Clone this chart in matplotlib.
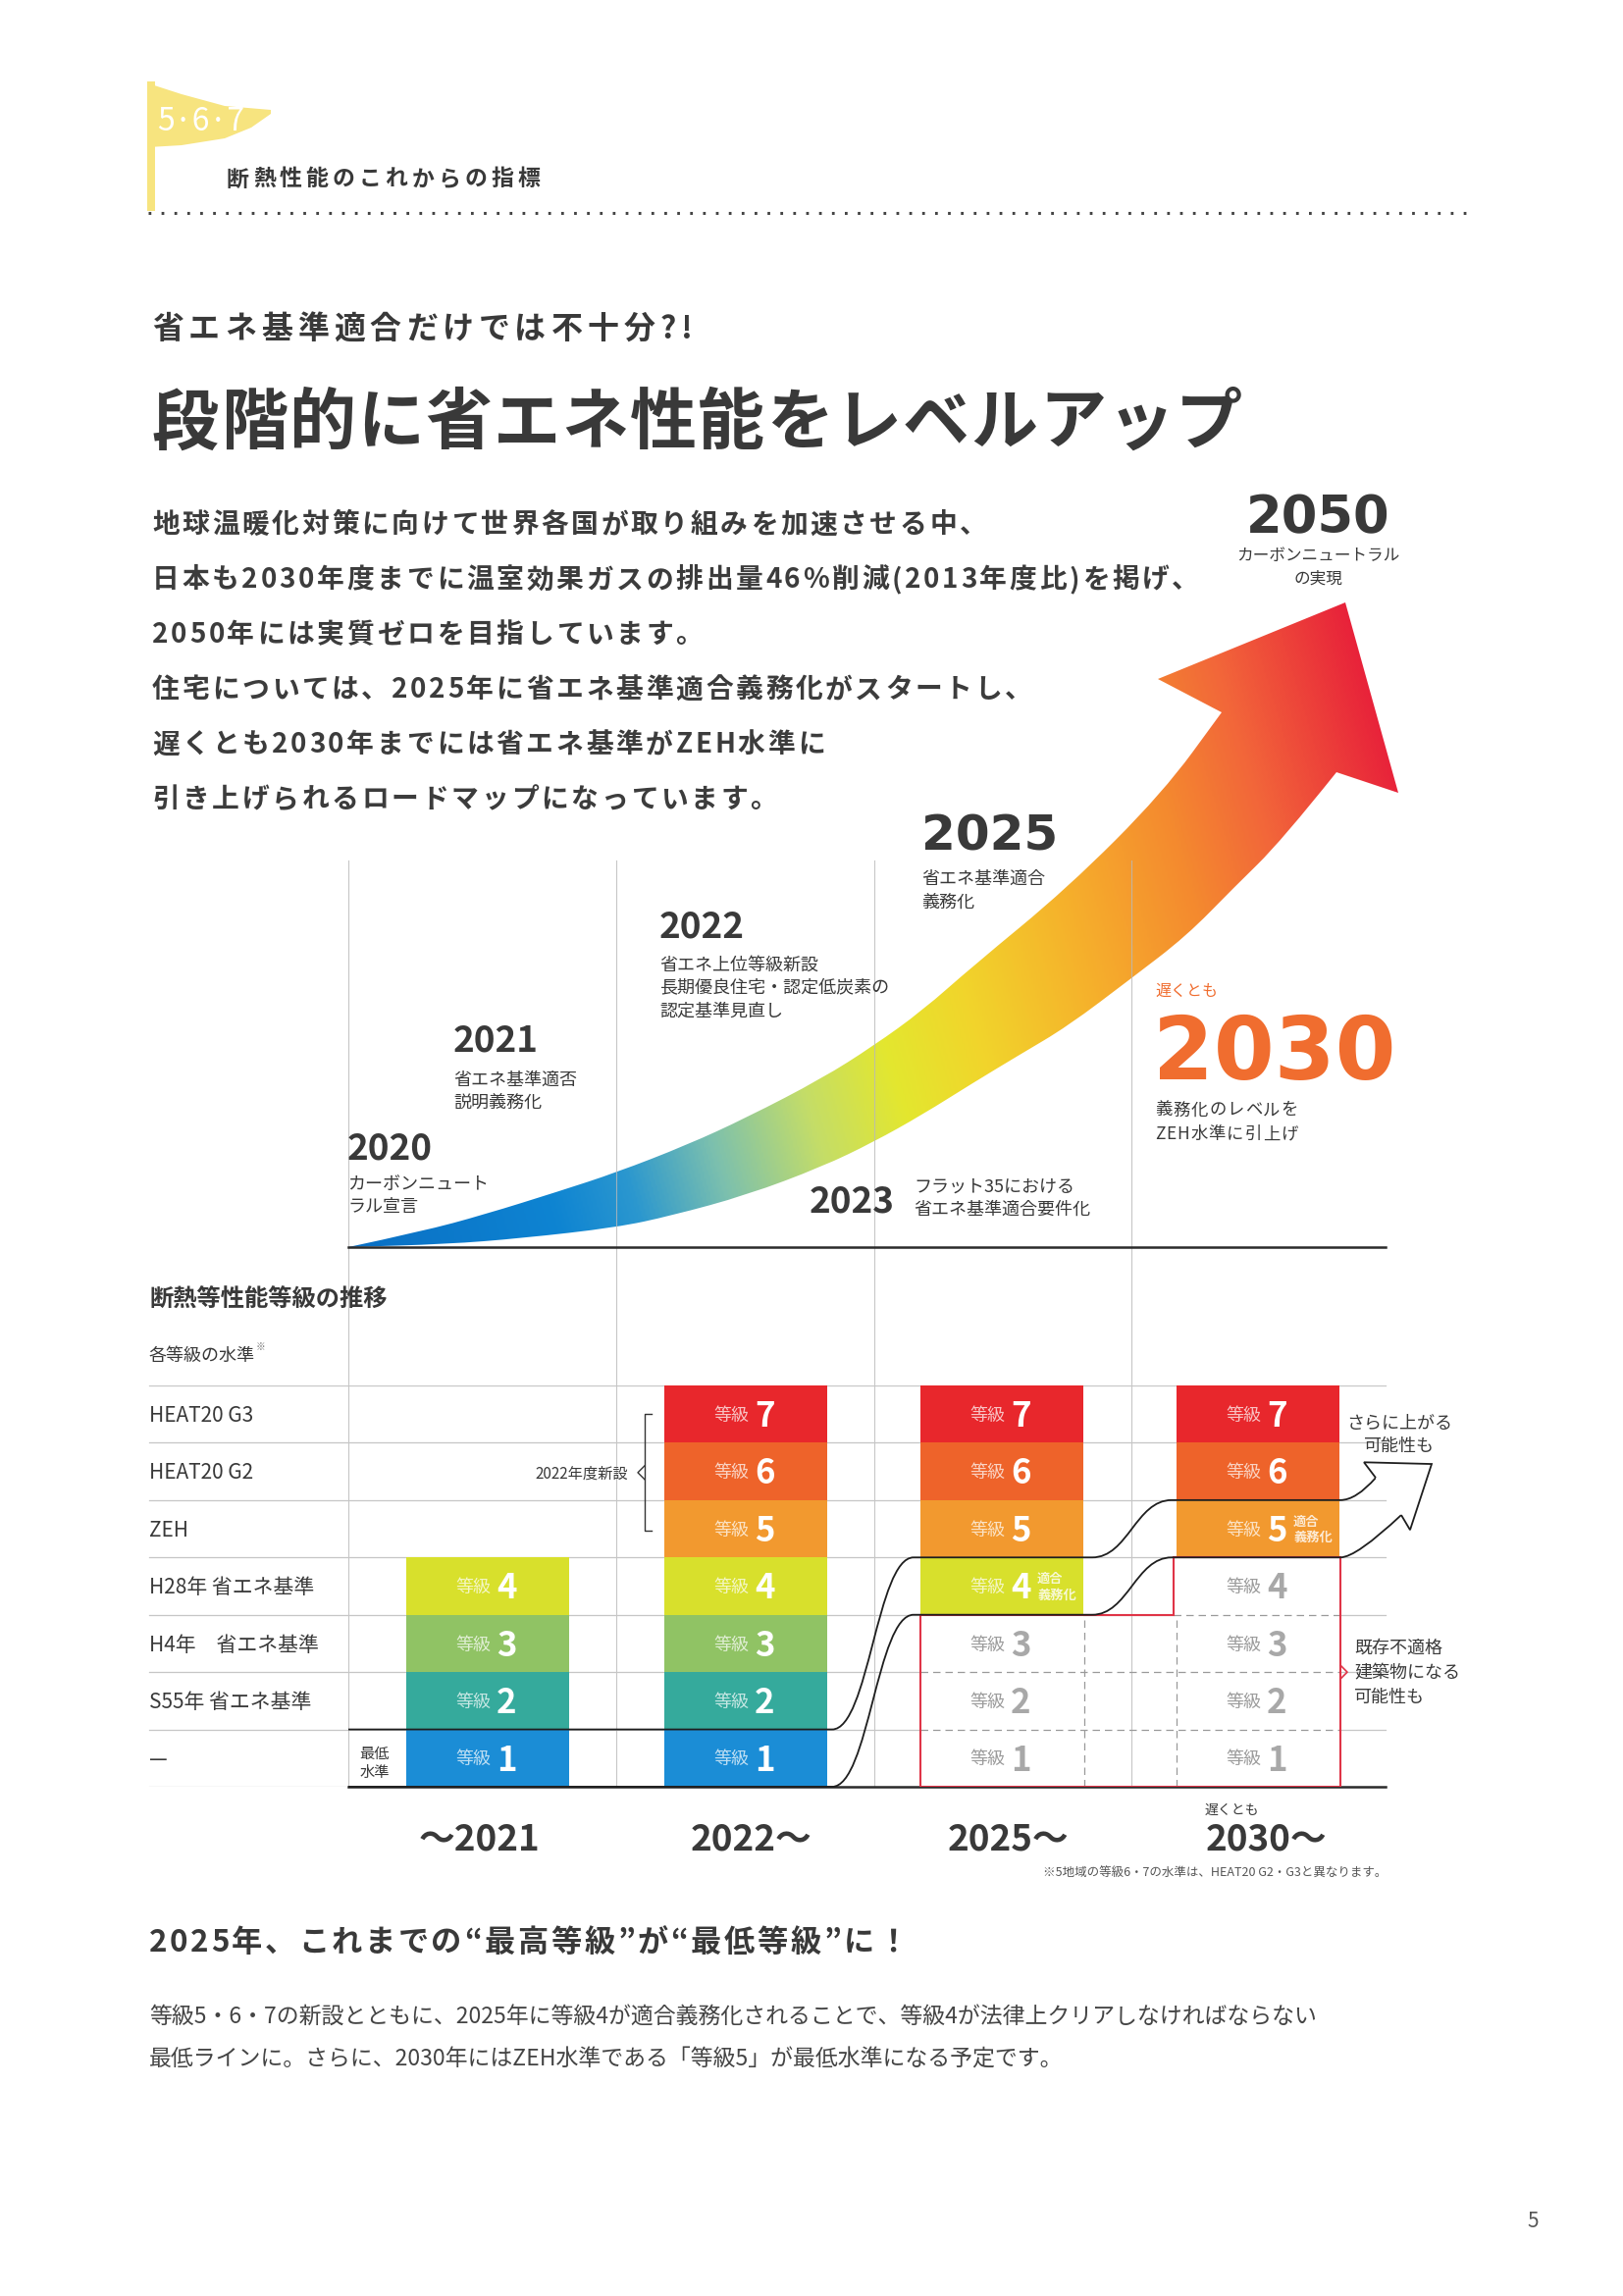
import matplotlib
matplotlib.use("Agg")
import matplotlib.pyplot as plt
import numpy as np
from matplotlib import font_manager as fm
from matplotlib.ft2font import FT2Font
from matplotlib.path import Path
from matplotlib.patches import PathPatch, Polygon, Rectangle
from matplotlib.colors import LinearSegmentedColormap

plt.rcParams["font.family"] = ["Noto Sans CJK JP", "DejaVu Sans"]

W, H, DPI = 1654, 2340, 100
DARK = "#393939"
GRID = "#c6c6c6"
RED = "#e03447"
ORANGE = "#f06d2f"

# ---------------- data ----------------
row_labels = ["HEAT20 G3", "HEAT20 G2", "ZEH", "H28年 省エネ基準",
              "H4年　省エネ基準", "S55年 省エネ基準", "—"]
grades = [7, 6, 5, 4, 3, 2, 1]
grade_colors = ["#e8272c", "#ee632a", "#f2992f", "#d8e02c", "#90c364", "#35aa9c", "#1b8dd6"]
periods = ["〜2021", "2022〜", "2025〜", "2030〜"]
top_grade = [4, 7, 7, 7]      # highest grade that exists in each period
min_grade = [1, 1, 4, 5]      # legal minimum grade in each period

event_years = ["2020", "2021", "2022", "2023"]
event_notes = [["カーボンニュート", "ラル宣言"],
               ["省エネ基準適否", "説明義務化"],
               ["省エネ上位等級新設", "長期優良住宅・認定低炭素の", "認定基準見直し"],
               ["フラット35における", "省エネ基準適合要件化"]]

body_lines = ["地球温暖化対策に向けて世界各国が取り組みを加速させる中、",
              "日本も2030年度までに温室効果ガスの排出量46%削減(2013年度比)を掲げ、",
              "2050年には実質ゼロを目指しています。",
              "住宅については、2025年に省エネ基準適合義務化がスタートし、",
              "遅くとも2030年までには省エネ基準がZEH水準に",
              "引き上げられるロードマップになっています。"]

# ---------------- layout ----------------
COL_X = [497, 760, 1021, 1282]
COL_W = 166
VLINES = [355, 628, 891, 1153]
EVENT_POS = [(354, 1168), (462, 1058), (672, 942), (825, 1222)]
NOTE_POS = [(354, 1205), (462, 1099), (672, 982), (931, 1208)]
SEG = [(355, 620), (620, 848), (931, 1113), (1194, 1366)]
G_TOP, G_BOT = 1412, 1821
ROW_PX = (G_BOT - G_TOP) / 7

fig = plt.figure(figsize=(W / DPI, H / DPI), dpi=DPI)
fig.patch.set_facecolor("white")
ax = fig.add_axes([0, 0, 1, 1])
ax.set_xlim(0, W)
ax.set_ylim(H, 0)
ax.axis("off")

ax_g = fig.add_axes([0, (H - G_BOT) / H, 1, (G_BOT - G_TOP) / H])
ax_g.set_xlim(0, W)
ax_g.set_ylim(0, 7)
ax_g.axis("off")

_fonts = {}


def adv(ch, size, weight):
    if weight not in _fonts:
        path = fm.findfont(fm.FontProperties(family="Noto Sans CJK JP", weight=weight))
        _fonts[weight] = FT2Font(path)
    f = _fonts[weight]
    f.set_size(size, DPI)
    return f.load_char(ord(ch)).linearHoriAdvance / 65536.0


def put(x, y, s, size, track=0.0, color=DARK, weight="normal", ha="left",
        family=None, alpha=1.0):
    yb = y + 0.37 * size * DPI / 72
    kw = dict(fontsize=size, color=color, fontweight=weight, va="baseline",
              zorder=6, alpha=alpha)
    if family is not None:
        kw["family"] = family
    if not track:
        ax.text(x, yb, s, ha=ha, **kw)
        return
    for ch in s:
        ax.text(x, yb, ch, ha="left", **kw)
        x += adv(ch, size, weight) + track


def gput(x, g, s, size, color=DARK, weight="normal", ha="left", alpha=1.0):
    off = 0.37 * size * DPI / 72 / ROW_PX
    ax_g.text(x, g - off, s, fontsize=size, color=color, fontweight=weight,
              ha=ha, va="baseline", zorder=7, alpha=alpha, clip_on=False)


# ---------------- header ----------------
flag = Polygon([(151, 85), (185, 96), (229, 108), (276, 112), (276, 116),
                (256, 130), (229, 141), (185, 148), (151, 150)],
               closed=True, fc="#f7e47f", ec="none", zorder=2)
ax.add_patch(flag)
ax.add_patch(Rectangle((150, 83), 8, 132, fc="#f7e47f", ec="none", zorder=2))
put(160, 121, "5·6·7", 23, color="white")
put(231, 181, "断熱性能のこれからの指標", 16.5, track=4, weight="bold")
ax.plot([151, 1495], [217, 217], color="#444444", lw=2.2,
        linestyle=(0, (0.9, 3.4)), zorder=3)

put(155, 333, "省エネ基準適合だけでは不十分?!", 23, track=5, weight="bold")
put(155, 427, "段階的に省エネ性能をレベルアップ", 49, track=1.5, weight="bold")

for i, line in enumerate(body_lines):
    put(155, 533 + i * 56, line, 20, track=2.7, weight="bold", color="#3c3c3c")

# ---------------- gradient arrow ----------------
upper = [(355, 1271), (430, 1255), (493, 1238), (570, 1214), (628, 1195), (700, 1167),
         (761, 1139), (838, 1099), (890, 1066), (940, 1030), (991, 985), (1088, 905),
         (1185, 808), (1245, 726)]
head = [(1180, 692), (1371, 614), (1425, 808), (1362, 787)]
lower = [(1362, 787), (1306, 857), (1257, 905), (1209, 954), (1153, 997), (1088, 1046),
         (1039, 1075), (991, 1104), (940, 1136), (890, 1164), (838, 1189), (761, 1218),
         (684, 1239), (628, 1251), (531, 1262), (455, 1268), (355, 1271)]

verts, codes = [], []


def add_smooth(pts, first):
    verts.append(pts[0])
    codes.append(first)
    for i in range(1, len(pts) - 1):
        m = ((pts[i][0] + pts[i + 1][0]) / 2, (pts[i][1] + pts[i + 1][1]) / 2)
        verts.extend([pts[i], m])
        codes.extend([Path.CURVE3, Path.CURVE3])
    verts.append(pts[-1])
    codes.append(Path.LINETO)


add_smooth(upper, Path.MOVETO)
for p in head:
    verts.append(p)
    codes.append(Path.LINETO)
add_smooth(lower, Path.LINETO)
verts.append((0, 0))
codes.append(Path.CLOSEPOLY)
arrow_patch = PathPatch(Path(verts, codes), fc="none", ec="none", transform=ax.transData)
ax.add_patch(arrow_patch)

cmap = LinearSegmentedColormap.from_list("arrow", [
    (0.0, "#0a6fc4"), (0.18, "#0e84d2"), (0.25, "#2b97cf"), (0.33, "#7cc0ae"),
    (0.42, "#c4dd68"), (0.50, "#e3e72f"), (0.58, "#f1d52b"), (0.70, "#f6ad2c"),
    (0.80, "#f4892f"), (0.88, "#f2653a"), (1.0, "#e8223a")])
gx = np.linspace(340, 1440, 550)
gy = np.linspace(590, 1280, 345)
GX, GY = np.meshgrid(gx, gy)
T = np.clip(((GX - 355) + 0.3 * (1271 - GY)) / 1215, 0, 1)
im = ax.imshow(T, extent=(340, 1440, 1280, 590), cmap=cmap, vmin=0, vmax=1,
               aspect="auto", interpolation="bilinear", zorder=2)
im.set_clip_path(arrow_patch)

# timeline grid and baseline
for x in VLINES:
    ax.plot([x, x], [877, G_BOT], color="#b9b9b9", lw=0.8, zorder=4, alpha=0.8)
ax.plot([355, 1412], [1271, 1271], color="#2b2b2b", lw=1.8, zorder=5)

# timeline labels
for (x, y), yr in zip(EVENT_POS, event_years):
    put(x, y, yr, 26.5, weight="bold")
for (x, y), notes in zip(NOTE_POS, event_notes):
    for k, s in enumerate(notes):
        put(x, y + k * 23.5, s, 13)

put(939, 848, "2025", 36, weight="bold", family=["DejaVu Sans"])
put(939, 894, "省エネ基準適合", 13)
put(939, 918, "義務化", 13)

put(1343, 524, "2050", 38, weight="bold", family=["DejaVu Sans"], ha="center")
put(1343, 565, "カーボンニュートラル", 12, ha="center")
put(1343, 588, "の実現", 12, ha="center")

put(1177, 1009, "遅くとも", 11.5, color=ORANGE)
put(1175, 1067, "2030", 64, weight="bold", family=["DejaVu Sans"], color=ORANGE)
put(1177, 1130, "義務化のレベルを", 12.5, track=1)
put(1177, 1155, "ZEH水準に引上げ", 12.5, track=1)

# ---------------- grade chart ----------------
put(152, 1323, "断熱等性能等級の推移", 17.5, weight="bold")
put(152, 1380, "各等級の水準", 13)
put(261, 1372, "※", 7, color="#777777")

# horizontal grid
for g in range(1, 8):
    if g in (1, 2):
        spans, dash = [(152, 938), (1366, 1412)], (938, 1366)
    elif g == 3:
        spans, dash = [(152, 1196), (1366, 1412)], (1196, 1366)
    else:
        spans, dash = [(152, 1412)], None
    for a, b in spans:
        ax_g.plot([a, b], [g, g], color=GRID, lw=0.9, zorder=1)
    if dash:
        ax_g.plot(dash, [g, g], color="#9a9a9a", lw=0.9, dashes=(6, 4), zorder=4)
ax_g.plot([152, 355], [0, 0], color=GRID, lw=0.9, zorder=1)
ax_g.plot([355, 1412], [0, 0], color="#2b2b2b", lw=1.8, zorder=5, clip_on=False)
ax_g.plot([1105, 1105], [0, 3], color="#9a9a9a", lw=0.9, dashes=(6, 4), zorder=4)
ax_g.plot([1199, 1199], [0, 3], color="#9a9a9a", lw=0.9, dashes=(6, 4), zorder=4)

for g, lab in zip(grades, row_labels):
    gput(152, g - 0.5, lab, 15)

for i in range(len(periods)):
    cx = COL_X[i]
    for g in range(1, top_grade[i] + 1):
        filled = g >= min_grade[i]
        color = grade_colors[grades.index(g)] if filled else "white"
        ax_g.bar(cx, 1, bottom=g - 1, width=COL_W, color=color, linewidth=0, zorder=3)
        if filled:
            gput(cx + 3, g - 0.5, "等級", 13, color="white", ha="right", alpha=0.72)
            gput(cx + 9, g - 0.5, str(g), 25, color="white", weight="bold")
        else:
            gput(cx + 3, g - 0.5, "等級", 13, color="#9b9b9b", ha="right")
            gput(cx + 9, g - 0.5, str(g), 25, color="#a8a8a8", weight="bold")
        if i >= 2 and g == min_grade[i]:
            gput(cx + 36, g - 0.36, "適合", 9.5, color="white", weight="bold", alpha=0.8)
            gput(cx + 36, g - 0.64, "義務化", 9.5, color="white", weight="bold", alpha=0.8)

# red outline of grades that become non-compliant
ax_g.add_patch(Polygon([(938, 0), (938, 3), (1196, 3), (1196, 4), (1366, 4), (1366, 0)],
                       closed=True, fc="none", ec=RED, lw=1.5, zorder=5))
ax_g.plot([1366, 1373, 1366], [2.12, 2.0, 1.88], color=RED, lw=1.2, zorder=5,
          clip_on=False)


# minimum-level band drawn as an open arrow
def level_path(levels, end):
    v = [(SEG[0][0], levels[0])]
    c = [Path.MOVETO]
    for i, (x0, x1) in enumerate(SEG):
        if i > 0:
            px, pl = SEG[i - 1][1], levels[i - 1]
            if pl != levels[i]:
                dx = x0 - px
                v += [(px + 0.45 * dx, pl), (x0 - 0.45 * dx, levels[i]), (x0, levels[i])]
                c += [Path.CURVE4] * 3
            else:
                v.append((x0, levels[i]))
                c.append(Path.LINETO)
        v.append((x1, levels[i]))
        c.append(Path.LINETO)
    v += [(SEG[-1][1] + 16, levels[-1]), end]
    c += [Path.CURVE3, Path.CURVE3]
    return Path(v, c)


upper_lv = min_grade
lower_lv = [m - 1 for m in min_grade]
for lv, end in [(upper_lv, (1402, 5.39)), (lower_lv, (1428, 4.74))]:
    ax_g.add_patch(PathPatch(level_path(lv, end), fc="none", ec="#1e1e1e", lw=1.3,
                             zorder=6, clip_on=False))
ahead = [(1402, 5.39), (1390, 5.66), (1459, 5.63), (1437, 4.48), (1428, 4.74)]
ax_g.add_patch(Polygon(ahead, closed=False, fc="white", ec="#1e1e1e", lw=1.3,
                       zorder=6, clip_on=False))

gput(382, 0.6, "最低", 11)
gput(382, 0.26, "水準", 11)
ax_g.texts[-1].set_ha("center")
ax_g.texts[-2].set_ha("center")

gput(640, 5.48, "2022年度新設", 11, ha="right")
ax_g.plot([664, 657, 657, 664], [6.5, 6.5, 4.47, 4.47], color="#333333", lw=1.0,
          zorder=4)
ax_g.plot([657, 650, 657], [5.6, 5.48, 5.36], color="#333333", lw=1.0, zorder=4)

gput(1426, 6.37, "さらに上がる", 13, ha="center")
gput(1426, 5.96, "可能性も", 13, ha="center")
gput(1380, 2.45, "既存不適格", 13)
gput(1380, 2.0, "建築物になる", 13)
gput(1380, 1.59, "可能性も", 13)

# period labels
for cx, lab in zip([489, 766, 1027, 1290], periods):
    put(cx, 1872, lab, 26.5, weight="bold", ha="center")
put(1228, 1844, "遅くとも", 10)
put(1413, 1908, "※5地域の等級6・7の水準は、HEAT20 G2・G3と異なります。", 9,
    ha="right", color="#555555")

# ---------------- bottom text ----------------
put(152, 1977, "2025年、これまでの“最高等級”が“最低等級”に！", 22.5, track=2.6,
    weight="bold")
put(152, 2053, "等級5・6・7の新設とともに、2025年に等級4が適合義務化されることで、"
    "等級4が法律上クリアしなければならない", 16.5, color="#444444")
put(152, 2097, "最低ラインに。さらに、2030年にはZEH水準である「等級5」が最低水準になる予定です。",
    16.5, color="#444444")
put(1562, 2262, "5", 15, color="#555555", ha="center")

ax.set_xlim(0, W)
ax.set_ylim(H, 0)
fig.savefig("out.png", dpi=DPI, facecolor="white")
